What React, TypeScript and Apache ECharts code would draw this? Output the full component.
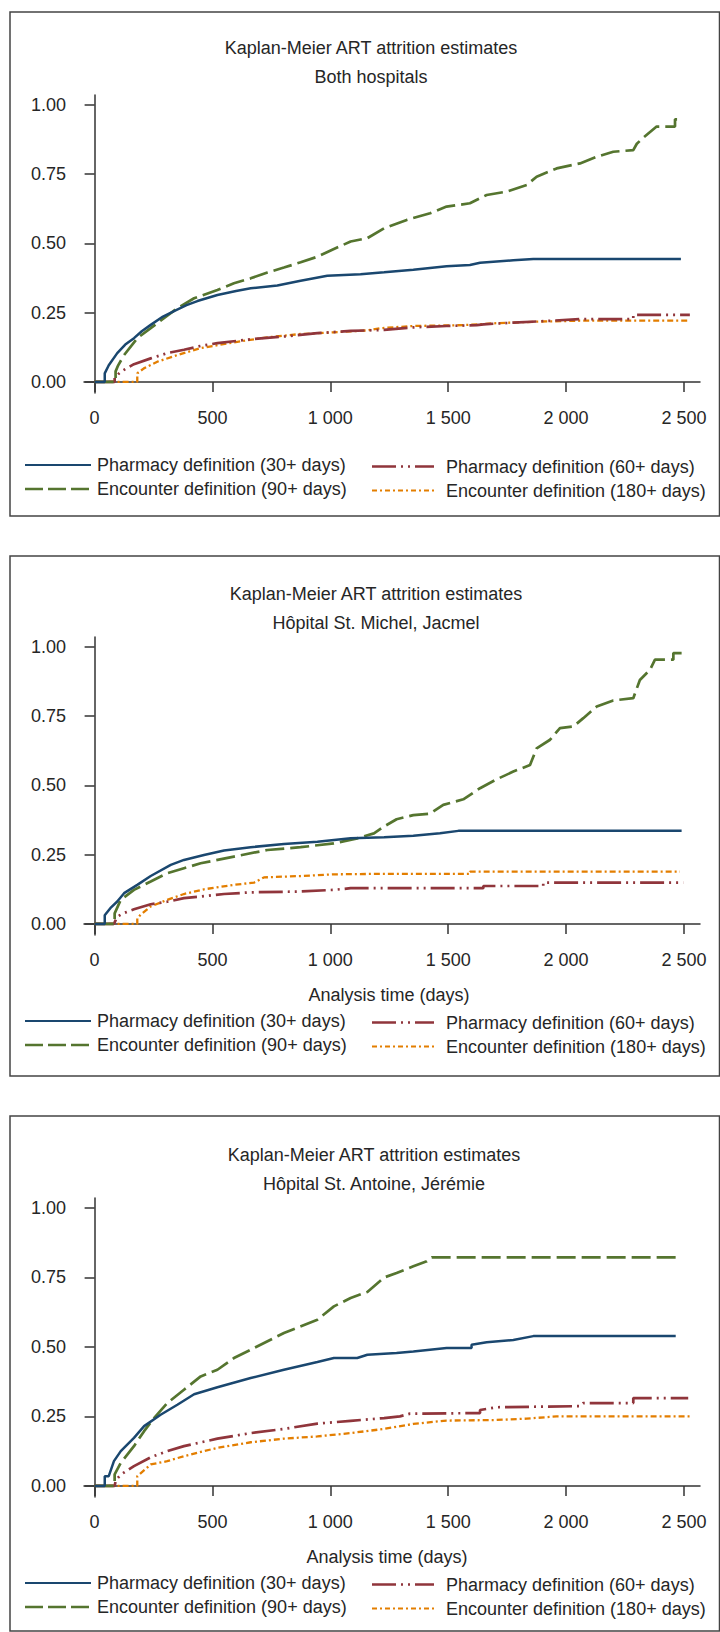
import React, { useEffect, useRef } from "react";
import * as echarts from "echarts";

// ---------- DATA ----------
const mainTitle = "Kaplan-Meier ART attrition estimates";
const panelTitles = ["Both hospitals", "Hôpital St. Michel, Jacmel", "Hôpital St. Antoine, Jérémie"];
const xAxisTitle = "Analysis time (days)";
const seriesNames = [
  "Pharmacy definition (30+ days)",
  "Encounter definition (90+ days)",
  "Pharmacy definition (60+ days)",
  "Encounter definition (180+ days)",
];
const xTicks = [0, 500, 1000, 1500, 2000, 2500];
const yTicks = [0, 0.25, 0.5, 0.75, 1];

// Panel 1: Both hospitals  [days, attrition]
const bothPharm30 = [[0,0],[43,0],[43,0.031],[60,0.06],[96,0.104],[130,0.135],[167,0.158],[200,0.183],[238,0.206],[290,0.236],[337,0.256],[390,0.277],[436,0.292],[521,0.314],[600,0.328],[662,0.338],[775,0.348],[874,0.365],[987,0.383],[1128,0.389],[1228,0.396],[1352,0.405],[1493,0.418],[1592,0.422],[1635,0.43],[1776,0.439],[1861,0.444],[2487,0.444]];
const bothEnc90 = [[0,0],[89,0],[89,0.038],[100,0.06],[125,0.097],[181,0.158],[238,0.194],[294,0.23],[351,0.266],[422,0.302],[521,0.332],[591,0.356],[662,0.374],[733,0.395],[803,0.413],[874,0.432],[945,0.452],[1015,0.48],[1086,0.507],[1157,0.519],[1228,0.555],[1324,0.585],[1423,0.609],[1493,0.633],[1592,0.645],[1663,0.675],[1748,0.687],[1833,0.711],[1875,0.741],[1960,0.771],[2059,0.789],[2130,0.813],[2200,0.831],[2285,0.837],[2300,0.86],[2328,0.882],[2384,0.922],[2462,0.922],[2462,0.948],[2490,0.948]];
const bothPharm60 = [[0,0],[85,0],[85,0.015],[111,0.037],[167,0.064],[238,0.085],[308,0.104],[379,0.116],[450,0.13],[521,0.14],[662,0.154],[803,0.164],[945,0.176],[1086,0.184],[1228,0.188],[1352,0.197],[1493,0.202],[1621,0.205],[1650,0.208],[1776,0.214],[1918,0.22],[2059,0.227],[2285,0.227],[2285,0.242],[2525,0.242]];
const bothEnc180 = [[0,0],[181,0],[181,0.031],[209,0.049],[266,0.073],[351,0.097],[450,0.122],[591,0.143],[733,0.161],[874,0.173],[1015,0.179],[1157,0.186],[1211,0.194],[1352,0.202],[1564,0.205],[1705,0.212],[1889,0.218],[2059,0.221],[2518,0.221]];

// Panel 2: Hôpital St. Michel, Jacmel
const jacmelPharm30 = [[0,0],[43,0],[43,0.031],[70,0.06],[96,0.081],[125,0.111],[181,0.141],[238,0.173],[323,0.213],[379,0.231],[464,0.249],[549,0.265],[662,0.277],[803,0.289],[945,0.297],[1086,0.309],[1228,0.313],[1352,0.318],[1465,0.327],[1543,0.336],[2490,0.336]];
const jacmelEnc90 = [[0,0],[85,0],[85,0.038],[111,0.087],[167,0.123],[238,0.153],[308,0.183],[379,0.201],[450,0.219],[591,0.243],[733,0.267],[874,0.277],[1015,0.291],[1114,0.309],[1185,0.327],[1228,0.352],[1281,0.378],[1352,0.393],[1423,0.398],[1479,0.43],[1564,0.45],[1635,0.49],[1705,0.522],[1776,0.55],[1847,0.574],[1875,0.634],[1932,0.665],[1974,0.707],[2031,0.713],[2073,0.743],[2130,0.785],[2200,0.807],[2285,0.815],[2313,0.881],[2356,0.918],[2377,0.954],[2455,0.954],[2455,0.978],[2490,0.978]];
const jacmelPharm60 = [[0,0],[82,0],[96,0.026],[120,0.038],[167,0.053],[238,0.071],[308,0.08],[379,0.093],[450,0.099],[549,0.108],[662,0.114],[874,0.117],[1015,0.123],[1086,0.129],[1649,0.129],[1649,0.137],[1903,0.137],[1903,0.149],[2497,0.149]];
const jacmelEnc180 = [[0,0],[181,0],[181,0.02],[195,0.033],[238,0.063],[308,0.087],[379,0.108],[464,0.125],[591,0.141],[676,0.149],[718,0.168],[874,0.173],[1015,0.179],[1228,0.181],[1592,0.181],[1592,0.189],[2483,0.189]];

// Panel 3: Hôpital St. Antoine, Jérémie
const jeremiePharm30 = [[0,0],[43,0],[43,0.035],[60,0.035],[82,0.089],[111,0.125],[167,0.173],[210,0.215],[280,0.256],[351,0.292],[422,0.33],[521,0.355],[662,0.388],[803,0.418],[945,0.446],[1015,0.46],[1114,0.46],[1157,0.472],[1281,0.478],[1352,0.484],[1493,0.496],[1599,0.496],[1599,0.508],[1663,0.517],[1776,0.525],[1861,0.539],[2465,0.539]];
const jeremieEnc90 = [[0,0],[85,0],[85,0.041],[111,0.083],[167,0.143],[210,0.197],[252,0.244],[308,0.298],[379,0.346],[450,0.394],[521,0.418],[591,0.46],[662,0.49],[803,0.55],[945,0.598],[1015,0.646],[1086,0.676],[1157,0.698],[1228,0.75],[1281,0.766],[1352,0.79],[1409,0.808],[1430,0.822],[2469,0.822]];
const jeremiePharm60 = [[0,0],[85,0],[90,0.02],[111,0.041],[167,0.071],[238,0.103],[308,0.125],[379,0.143],[521,0.17],[662,0.19],[803,0.205],[945,0.224],[1086,0.234],[1228,0.244],[1295,0.25],[1338,0.26],[1635,0.262],[1635,0.273],[1705,0.283],[2060,0.287],[2073,0.298],[2285,0.298],[2285,0.316],[2518,0.316]];
const jeremieEnc180 = [[0,0],[181,0],[181,0.035],[238,0.077],[308,0.089],[379,0.107],[521,0.137],[662,0.157],[803,0.17],[945,0.178],[1086,0.19],[1228,0.205],[1352,0.223],[1493,0.235],[1700,0.237],[1833,0.242],[1960,0.25],[2525,0.25]];

const panelData = [
  [bothPharm30, bothEnc90, bothPharm60, bothEnc180],
  [jacmelPharm30, jacmelEnc90, jacmelPharm60, jacmelEnc180],
  [jeremiePharm30, jeremieEnc90, jeremiePharm60, jeremieEnc180],
];

// ---------- STYLE / LAYOUT ----------
const FONT = '"Liberation Sans", Arial, Helvetica, sans-serif';
const TEXT = "#262626";
const AXIS = "#333333";
const colors = ["#1a476f", "#55752f", "#90353b", "#e37e00"];
const widths = [2.5, 2.7, 2.7, 2.3];
const legendWidths = [2, 2.4, 2.4, 2];
const seriesDash: any[] = ["solid", [19, 6], [24, 5, 2, 5, 2, 5], [6, 3, 2, 3]];
const legendDash: any[] = [null, [18, 5], [24, 5, 2, 5, 2, 5], [5, 3, 2, 3]];
const drawOrder = [3, 2, 1, 0];

const layout = [
  { frameTop: 12, frameBottom: 516, t1: 48, t2: 77, titleX: 371, gridTop: 95, gridH: 298, xTitleY: 0, xTitleX: 0, leg: [465, 489] },
  { frameTop: 556, frameBottom: 1076, t1: 594, t2: 622.5, titleX: 376, gridTop: 637, gridH: 298, xTitleY: 995, xTitleX: 389, leg: [1021, 1045] },
  { frameTop: 1116, frameBottom: 1631, t1: 1155, t2: 1183.5, titleX: 374, gridTop: 1198, gridH: 299, xTitleY: 1557, xTitleX: 387, leg: [1583, 1607] },
];

function fmtThousands(v: number) {
  const s = String(Math.round(v));
  return s.replace(/\B(?=(\d{3})+(?!\d))/g, " ");
}

function buildOption() {
  const grids: any[] = [];
  const xAxes: any[] = [];
  const yAxes: any[] = [];
  const series: any[] = [];
  const graphic: any[] = [];

  layout.forEach((L, p) => {
    grids.push({ left: 84, top: L.gridTop, width: 616, height: L.gridH, containLabel: false });
    xAxes.push({
      type: "value",
      gridIndex: p,
      min: -45,
      max: 2568,
      axisLine: { show: true, lineStyle: { color: AXIS, width: 1.5 } },
      axisTick: { show: true, customValues: xTicks, length: 10, lineStyle: { color: AXIS, width: 1.5 } },
      axisLabel: {
        customValues: xTicks,
        formatter: (v: number) => fmtThousands(v),
        fontSize: 18,
        fontFamily: FONT,
        color: TEXT,
        margin: 16,
      },
      splitLine: { show: false },
    });
    yAxes.push({
      type: "value",
      gridIndex: p,
      min: -0.04,
      max: 1.036,
      axisLine: { show: true, lineStyle: { color: AXIS, width: 1.5 } },
      axisTick: { show: true, customValues: yTicks, length: 10, lineStyle: { color: AXIS, width: 1.5 } },
      axisLabel: {
        customValues: yTicks,
        formatter: (v: number) => v.toFixed(2),
        fontSize: 18,
        fontFamily: FONT,
        color: TEXT,
        margin: 18,
      },
      splitLine: { show: false },
    });

    drawOrder.forEach((k) => {
      series.push({
        type: "line",
        name: seriesNames[k] + " " + (p + 1),
        xAxisIndex: p,
        yAxisIndex: p,
        data: panelData[p][k],
        showSymbol: false,
        symbol: "none",
        lineStyle: { color: colors[k], width: widths[k], type: seriesDash[k], cap: "butt" },
        silent: true,
      });
    });

    // frame
    graphic.push({
      type: "rect",
      shape: { x: 10, y: L.frameTop, width: 709.5, height: L.frameBottom - L.frameTop },
      style: { fill: "none", stroke: "#444", lineWidth: 1.5 },
      z: -1,
    });
    // titles
    graphic.push({
      type: "text",
      x: L.titleX,
      y: L.t1,
      style: { text: mainTitle, fontSize: 18, fontFamily: FONT, fill: TEXT, align: "center", verticalAlign: "middle" },
    });
    graphic.push({
      type: "text",
      x: L.titleX,
      y: L.t2,
      style: { text: panelTitles[p], fontSize: 18, fontFamily: FONT, fill: TEXT, align: "center", verticalAlign: "middle" },
    });
    if (L.xTitleY) {
      graphic.push({
        type: "text",
        x: L.xTitleX,
        y: L.xTitleY,
        style: { text: xAxisTitle, fontSize: 18, fontFamily: FONT, fill: TEXT, align: "center", verticalAlign: "middle" },
      });
    }
    // legend (2 columns)
    const legPos = [
      { lx1: 25, lx2: 91, tx: 97, y: L.leg[0] },
      { lx1: 25, lx2: 91, tx: 97, y: L.leg[1] },
      { lx1: 372, lx2: 434, tx: 446, y: L.leg[0] + 1.5 },
      { lx1: 372, lx2: 434, tx: 446, y: L.leg[1] + 1.5 },
    ];
    legPos.forEach((lp, k) => {
      const ls: any = { stroke: colors[k], lineWidth: legendWidths[k] };
      if (legendDash[k]) ls.lineDash = legendDash[k];
      graphic.push({ type: "line", shape: { x1: lp.lx1, y1: lp.y, x2: lp.lx2, y2: lp.y }, style: ls });
      graphic.push({
        type: "text",
        x: lp.tx,
        y: lp.y,
        style: { text: seriesNames[k], fontSize: 18, fontFamily: FONT, fill: TEXT, align: "left", verticalAlign: "middle" },
      });
    });
  });

  return {
    animation: false,
    backgroundColor: "#ffffff",
    textStyle: { fontFamily: FONT },
    grid: grids,
    xAxis: xAxes,
    yAxis: yAxes,
    series,
    graphic,
  };
}

export default function App() {
  const ref = useRef<HTMLDivElement>(null);
  useEffect(() => {
    document.body.style.margin = "0";
    const chart = echarts.init(ref.current as HTMLDivElement, null, { renderer: "svg" });
    chart.setOption(buildOption() as any);
    return () => chart.dispose();
  }, []);
  return <div ref={ref} style={{ width: 720, height: 1632 }} />;
}
